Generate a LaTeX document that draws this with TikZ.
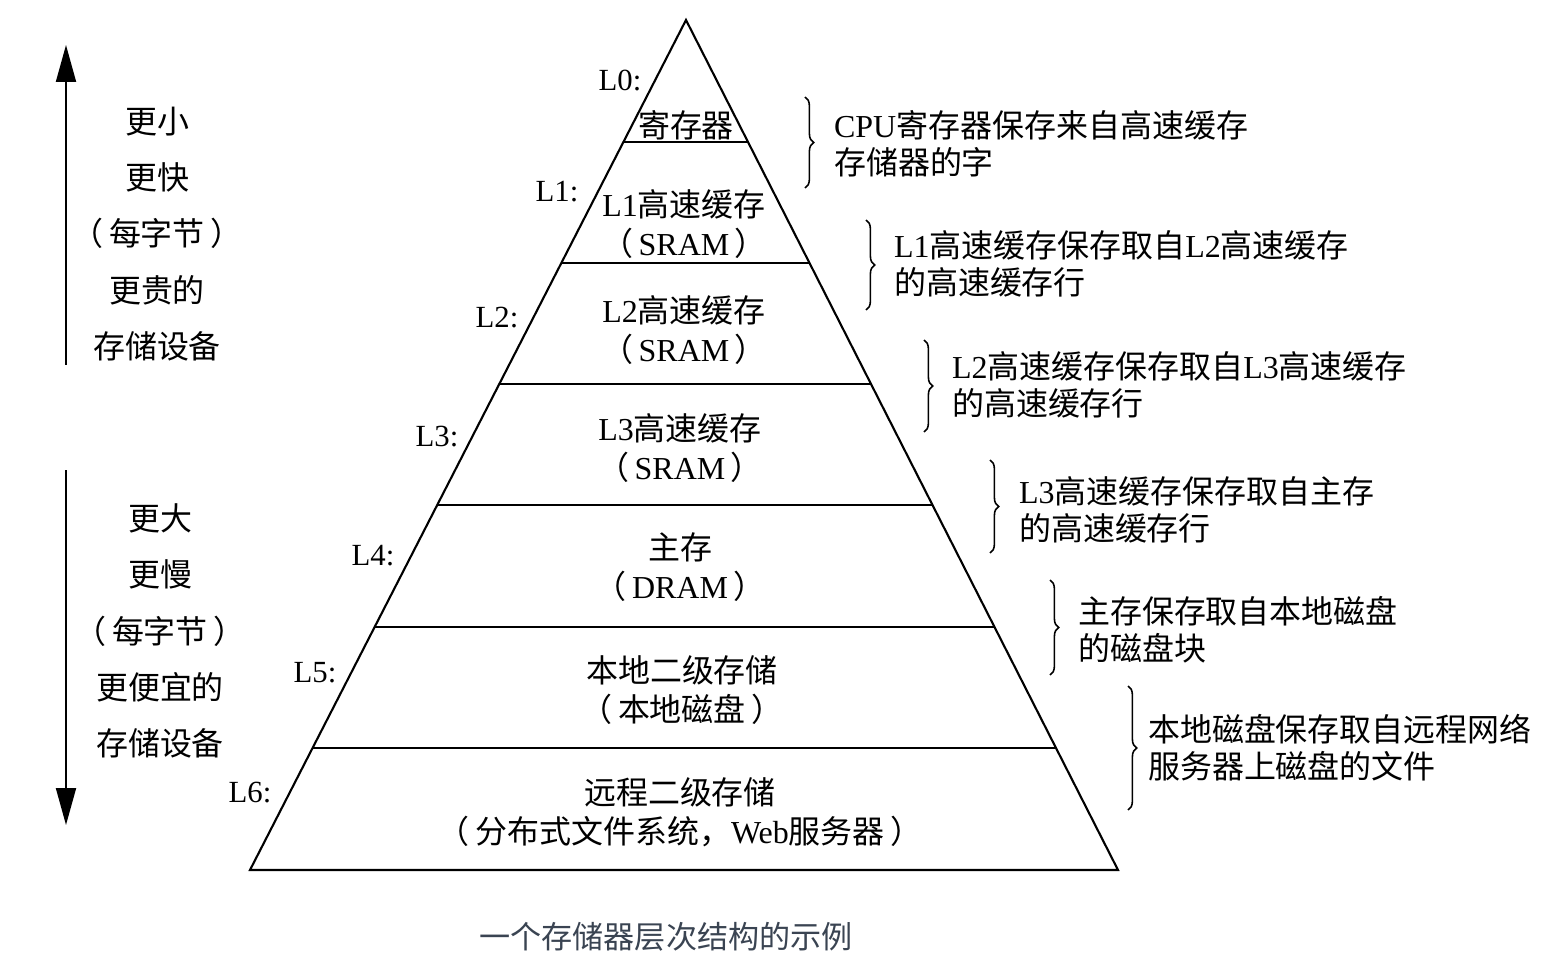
\documentclass[tikz,border=0pt]{standalone}
\usepackage{fontspec}
\setmainfont{Liberation Serif}
\newfontfamily\zhfont{Noto Sans CJK SC}
\newcommand{\zh}[1]{{\zhfont #1}}
\usetikzlibrary{decorations.pathreplacing}
\usetikzlibrary{arrows.meta}
\definecolor{caption1}{RGB}{58, 68, 82}

\tikzset{
  lvltext/.style={font=\fontsize{18.2}{22}\selectfont, align=center, inner sep=0pt},
  lvltag/.style={font=\fontsize{17.5}{20}\selectfont, inner sep=0pt},
  notetext/.style={font=\fontsize{18.2}{21}\selectfont, align=left, anchor=west, inner sep=0pt},
  sidetext/.style={font=\fontsize{18.2}{32}\selectfont, align=center, inner sep=0pt},
  brc/.style={decorate, decoration={brace, amplitude=5pt}, line width=0.9pt},
  bigarrow/.style={-{Triangle[length=7.4mm, width=4mm]}, line width=1.1pt}
}

\begin{document}
\begin{tikzpicture}[x=0.2mm, y=-0.2mm, line width=1.2pt]
  \useasboundingbox (0,0) rectangle (1560,980);

  % pyramid
  \coordinate (apex) at (686,20);
  \coordinate (baseL) at (250,870);
  \coordinate (baseR) at (1118,870);
  \draw[line join=miter] (apex) -- (baseL) -- (baseR) -- cycle;
  \foreach \y/\xl/\xr in {142/623.4/748, 263/561.3/809.4, 384/499.3/870.9,
                          505/437.2/932.4, 627/374.6/994.4, 748/312.5/1055.8}
   \draw (\xl,\y) -- (\xr,\y);

  % levels
  \node[lvltext] (lv0) at (686,125) {\zh{寄存器}};
  \node[lvltext] (lv1) at (684,224) {L1\zh{高速缓存}\\\zh{（}\,SRAM\,\zh{）}};
  \node[lvltext] (lv2) at (684,330) {L2\zh{高速缓存}\\\zh{（}\,SRAM\,\zh{）}};
  \node[lvltext] (lv3) at (680,448) {L3\zh{高速缓存}\\\zh{（}\,SRAM\,\zh{）}};
  \node[lvltext] (lv4) at (680,567) {\zh{主存}\\\zh{（}\,DRAM\,\zh{）}};
  \node[lvltext] (lv5) at (682,690) {\zh{本地二级存储}\\\zh{（}\,\zh{本地磁盘}\,\zh{）}};
  \node[lvltext] (lv6) at (680,812) {\zh{远程二级存储}\\\zh{（}\,\zh{分布式文件系统，}Web\zh{服务器}\,\zh{）}};

  \node[lvltag] (tag0) at (620,80) {L0:};
  \node[lvltag] (tag1) at (557,192) {L1:};
  \node[lvltag] (tag2) at (497,318) {L2:};
  \node[lvltag] (tag3) at (437,437) {L3:};
  \node[lvltag] (tag4) at (373,556) {L4:};
  \node[lvltag] (tag5) at (315,673) {L5:};
  \node[lvltag] (tag6) at (250,793) {L6:};

  % braces and notes
  \foreach \a/\b/\x in {97/188/805, 220/310/866, 340/432/924,
                        460/553/990, 580/675/1050, 686/810/1128}
   \draw[brc] (\x,\a) -- (\x,\b);
  \node[notetext] (note0) at (833,144) {CPU\zh{寄存器保存来自高速缓存}\\\zh{存储器的字}};
  \node[notetext] (note1) at (893,264) {L1\zh{高速缓存保存取自}L2\zh{高速缓存}\\\zh{的高速缓存行}};
  \node[notetext] (note2) at (951,385) {L2\zh{高速缓存保存取自}L3\zh{高速缓存}\\\zh{的高速缓存行}};
  \node[notetext] (note3) at (1018,510) {L3\zh{高速缓存保存取自主存}\\\zh{的高速缓存行}};
  \node[notetext] (note4) at (1077,630) {\zh{主存保存取自本地磁盘}\\\zh{的磁盘块}};
  \node[notetext] (note5) at (1147,748) {\zh{本地磁盘保存取自远程网络}\\\zh{服务器上磁盘的文件}};

  % left side
  \coordinate (upS) at (66,365);
  \coordinate (upE) at (66,45);
  \coordinate (dnS) at (66,470);
  \coordinate (dnE) at (66,825);
  \draw[bigarrow] (upS) -- (upE);
  \draw[bigarrow] (dnS) -- (dnE);
  \node[sidetext] (fast) at (157,234) {\zh{更小}\\\zh{更快}\\\zh{（}\,\zh{每字节}\,\zh{）}\\\zh{更贵的}\\\zh{存储设备}};
  \node[sidetext] (slow) at (160,631) {\zh{更大}\\\zh{更慢}\\\zh{（}\,\zh{每字节}\,\zh{）}\\\zh{更便宜的}\\\zh{存储设备}};

  % caption
  \node[font=\zhfont\fontsize{17.7}{20}\selectfont, text=caption1, inner sep=0pt] (cap) at (666,937) {一个存储器层次结构的示例};
\end{tikzpicture}
\end{document}
